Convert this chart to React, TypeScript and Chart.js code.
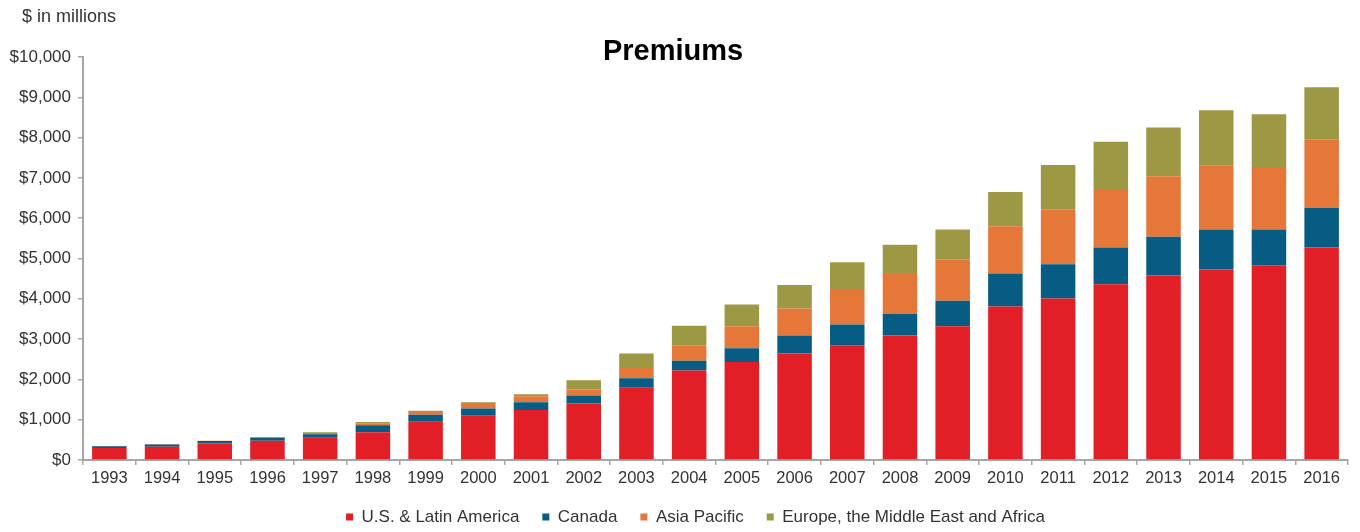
import React, { useEffect, useRef } from "react";
import { Chart, registerables } from "chart.js";

Chart.register(...registerables);

const years = [
  "1993", "1994", "1995", "1996", "1997", "1998", "1999", "2000", "2001", "2002", "2003", "2004",
  "2005", "2006", "2007", "2008", "2009", "2010", "2011", "2012", "2013", "2014", "2015", "2016",
];
const usLatinAmerica = [300, 330, 410, 480, 550, 690, 950, 1100, 1240, 1400, 1790, 2220, 2430, 2640, 2850, 3090, 3320, 3810, 4010, 4360, 4580, 4730, 4830, 5270];
const canada = [40, 55, 60, 70, 90, 170, 170, 180, 190, 200, 240, 240, 340, 450, 510, 540, 630, 820, 850, 910, 960, 990, 890, 990];
const asiaPacific = [5, 5, 5, 10, 30, 40, 70, 110, 150, 150, 250, 390, 550, 670, 860, 1010, 1020, 1170, 1360, 1430, 1500, 1580, 1550, 1700];
const emea = [5, 5, 5, 10, 20, 40, 30, 40, 50, 230, 360, 480, 540, 580, 690, 700, 750, 850, 1100, 1200, 1210, 1380, 1310, 1290];

const seriesNames = ["U.S. & Latin America", "Canada", "Asia Pacific", "Europe, the Middle East and Africa"];
const seriesColors = ["#E21E26", "#065C82", "#E57838", "#9D9844"];
const titleText = "Premiums";
const unitText = "$ in millions";

const FONT = "'Liberation Sans', Arial, Helvetica, sans-serif";
const TEXT = "#333333";
const AXIS = "#a6a6a6";

export default function App() {
  const ref = useRef<HTMLCanvasElement | null>(null);

  useEffect(() => {
    if (!ref.current) return;
    const textPlugin = {
      id: "extraText",
      afterLayout(chart: any) {
        // centre the legend row under the plotted area like the reference
        if (chart.legend) {
          chart.legend.left = 43;
        }
      },
      afterDraw(chart: any) {
        const c = chart.ctx;
        c.save();
        c.textBaseline = "middle";
        c.fillStyle = TEXT;
        c.textAlign = "left";
        c.font = `18px ${FONT}`;
        c.fillText(unitText, 22, 17);
        c.fillStyle = "#000000";
        c.textAlign = "center";
        c.font = `bold 29px ${FONT}`;
        c.fillText(titleText, 673, 52);
        c.restore();
      },
    };

    const values = [usLatinAmerica, canada, asiaPacific, emea];
    const chart = new Chart(ref.current, {
      type: "bar",
      data: {
        labels: years,
        datasets: values.map((d, i) => ({
          label: seriesNames[i],
          data: d,
          backgroundColor: seriesColors[i],
          borderWidth: 0,
          barPercentage: 0.655,
          categoryPercentage: 1,
        })),
      },
      options: {
        responsive: false,
        animation: false,
        layout: { padding: { top: 57, left: 0, right: 12, bottom: 0 } },
        plugins: {
          title: { display: false },
          tooltip: { enabled: false },
          legend: {
            position: "bottom",
            maxHeight: 46.5,
            labels: {
              boxWidth: 7,
              boxHeight: 7,
              padding: 23,
              color: TEXT,
              font: { family: FONT, size: 17 },
            },
          },
        },
        scales: {
          x: {
            stacked: true,
            afterFit: (scale: any) => {
              scale.height = 25.5;
            },
            grid: {
              offset: true,
              drawOnChartArea: false,
              drawTicks: true,
              tickLength: 5,
              color: AXIS,
              lineWidth: 1.5,
            },
            border: { color: AXIS, width: 2 },
            ticks: {
              color: TEXT,
              font: { family: FONT, size: 16.5 },
              padding: 4,
              maxRotation: 0,
              autoSkip: false,
            },
          },
          y: {
            stacked: true,
            min: 0,
            max: 10000,
            afterFit: (scale: any) => {
              scale.width = 83;
            },
            grid: {
              drawOnChartArea: false,
              drawTicks: true,
              tickLength: 5,
              color: AXIS,
              lineWidth: 1.5,
            },
            border: { color: AXIS, width: 2 },
            ticks: {
              stepSize: 1000,
              color: TEXT,
              padding: 7,
              font: { family: FONT, size: 17 },
              callback: (v: any) => "$" + Number(v).toLocaleString("en-US"),
            },
          },
        },
      },
      plugins: [textPlugin],
    });
    return () => chart.destroy();
  }, []);

  return (
    <div style={{ position: "absolute", left: 0, top: 0, width: 1360, height: 532, background: "#ffffff" }}>
      <canvas ref={ref} width={1360} height={532} style={{ width: 1360, height: 532, display: "block" }} />
    </div>
  );
}
